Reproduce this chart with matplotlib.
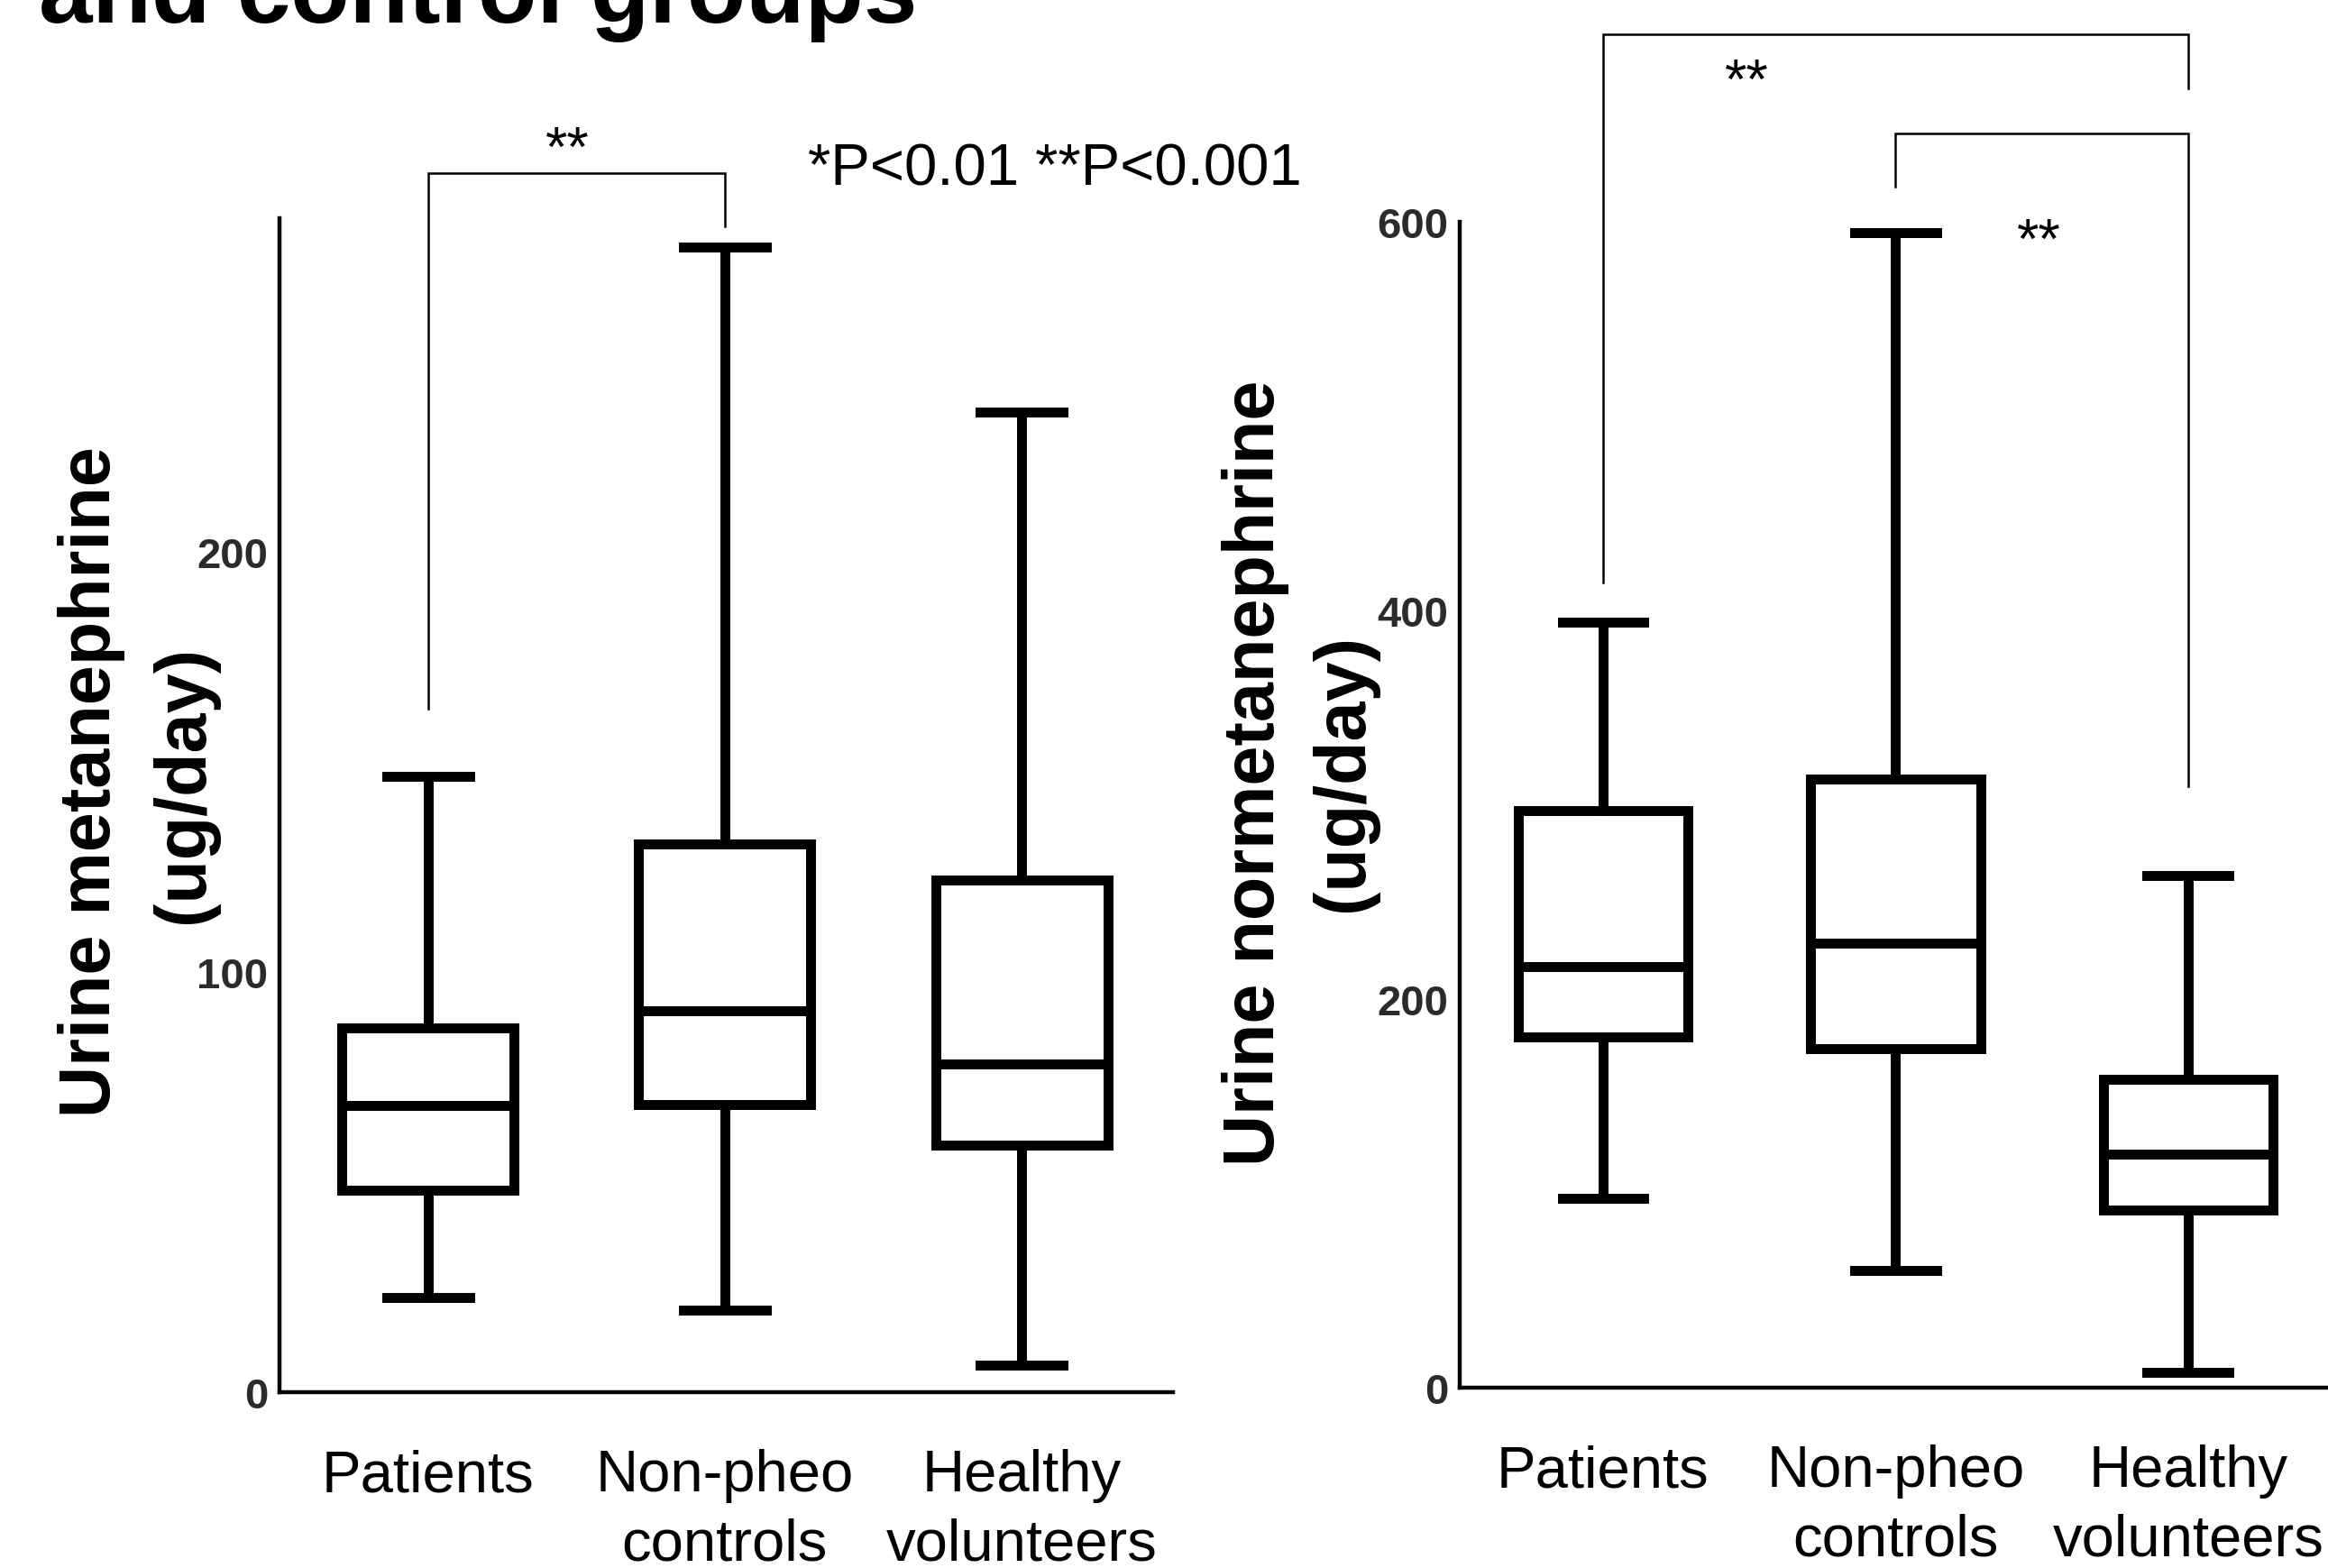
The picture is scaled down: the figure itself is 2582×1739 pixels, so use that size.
"""
Box plots of urine metanephrine / normetanephrine in patients and control groups.
"""

import matplotlib
matplotlib.use('Agg')
import matplotlib.pyplot as plt

plt.rcParams['font.family'] = ['Liberation Sans', 'DejaVu Sans']

# categories
groups = ["Patients", "Non-pheo\ncontrols", "Healthy\nvolunteers"]

# urine metanephrine (ug/day): whisker low, Q1, median, Q3, whisker high
met_low = [22.5, 19.4, 6.3]
met_q1 = [48.0, 68.4, 58.7]
met_med = [68.2, 90.6, 78.0]
met_q3 = [86.6, 130.3, 121.8]
met_high = [146.5, 272.4, 233.2]

# urine normetanephrine (ug/day)
nor_low = [97.3, 60.1, 7.8]
nor_q1 = [180.2, 174.3, 91.4]
nor_med = [216.5, 228.8, 120.3]
nor_q3 = [296.7, 313.3, 158.8]
nor_high = [394.1, 594.6, 263.3]

met_ticks = [0, 100, 200]
nor_ticks = [0, 200, 400, 600]

# significance brackets: (group a, group b, left foot, top, right foot, star x, star baseline)
met_brackets = [(1, 2, 162.6, 290.0, 277.4, 1.47, 292.0)]
nor_brackets = [(1, 3, 414.3, 696.5, 668.6, 1.49, 664.0),
                (2, 3, 618.0, 645.5, 309.4, 2.49, 582.0)]

W, H = 2582, 1740
LW = 7.9


def make_stats(low, q1, med, q3, high):
    return [dict(whislo=a, q1=b, med=c, q3=d, whishi=e, fliers=[])
            for a, b, c, d, e in zip(low, q1, med, q3, high)]


def draw_panel(ax, stats, ticks, ylim, xlim, brackets):
    line = dict(color='black', lw=LW, solid_joinstyle='miter')
    ax.bxp(stats, positions=[1, 2, 3], widths=0.58, capwidths=0.28,
           showfliers=False, boxprops=line, whiskerprops=line,
           capprops=line, medianprops=line)
    ax.set_xlim(*xlim)
    ax.set_ylim(*ylim)
    ax.set_xticks([1, 2, 3], groups)
    ax.set_yticks(ticks)
    ax.tick_params(axis='x', length=0, pad=45, labelsize=47)
    ax.tick_params(axis='y', length=0, pad=9, labelsize=34, labelcolor='#2b2b2b')
    for lab in ax.get_xticklabels():
        lab.set_linespacing(1.35)
    for lab in ax.get_yticklabels():
        lab.set_fontweight('bold')
    for s in ['top', 'right']:
        ax.spines[s].set_visible(False)
    for s in ['left', 'bottom']:
        ax.spines[s].set_linewidth(3.2)
        ax.spines[s].set_color('black')

    # brackets with stars
    for a, b, yl, yt, yr, xs, ys in brackets:
        ax.plot([a, a, b, b], [yl, yt, yt, yr], color='black', lw=1.8,
                clip_on=False, solid_joinstyle='miter')
        ax.text(xs, ys, "**", ha='center', va='baseline',
                fontsize=45, clip_on=False)


fig = plt.figure(figsize=(W / 100, H / 100), dpi=100)

ax1 = fig.add_axes([310 / W, 1 - 1544.6 / H, (1301 - 310) / W, (1544.6 - 243) / H])
draw_panel(ax1, make_stats(met_low, met_q1, met_med, met_q3, met_high),
           met_ticks, (0, 279.3), (0.5, 3.51), met_brackets)
ax1.text(2.28, 287.3, "*P<0.01 **P<0.001", ha='left', va='baseline',
         fontsize=47, clip_on=False)

ax2 = fig.add_axes([1619 / W, 1 - 1539.7 / H, 1035 / W, (1539.7 - 247) / H])
draw_panel(ax2, make_stats(nor_low, nor_q1, nor_med, nor_q3, nor_high),
           nor_ticks, (0, 600), (0.51, 3.70), nor_brackets)

# y labels, one text per line
ylab = dict(rotation=90, ha='center', va='center', fontsize=57, fontweight='bold')
fig.text(102 / W, 1 - 867 / H, "Urine metanephrine", **ylab)
fig.text(204 / W, 1 - 870 / H, "(ug/day)", **ylab)
fig.text(1393 / W, 1 - 857 / H, "Urine normetanephrine", **ylab)
fig.text(1490 / W, 1 - 857 / H, "(ug/day)", **ylab)

# title (partly cut off at top, as in the source)
fig.text(43 / W, 1 - 25 / H, "and control groups", ha='left', va='baseline',
         fontsize=77, fontweight='bold')

fig.savefig('out.png', dpi=100)
